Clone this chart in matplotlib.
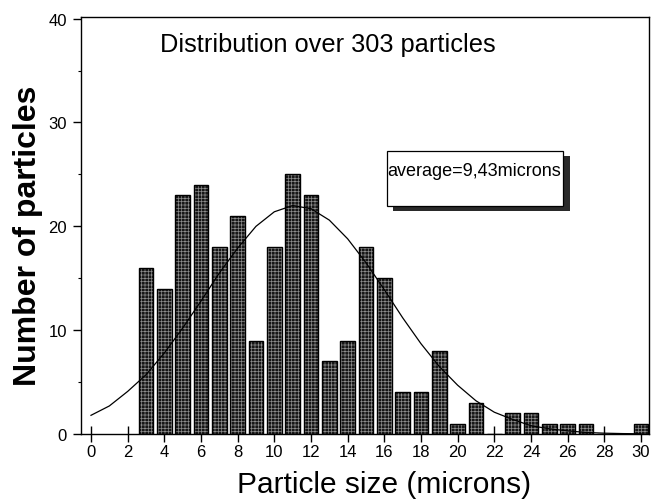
import matplotlib
matplotlib.use("Agg")
import matplotlib.pyplot as plt
from matplotlib.patches import Rectangle
from matplotlib.ticker import MultipleLocator

plt.rcParams['font.family'] = ['Liberation Sans', 'DejaVu Sans']

# Histogram data (particle size in microns -> count)
sizes = [3, 4, 5, 6, 7, 8, 9, 10, 11, 12, 13, 14, 15, 16, 17, 18, 19, 20, 21, 22,
         23, 24, 25, 26, 27, 28, 29, 30]
counts = [16, 14, 23, 24, 18, 21, 9, 18, 25, 23, 7, 9, 18, 15, 4, 4, 8, 1, 3, 0,
          2, 2, 1, 1, 1, 0, 0, 1]

fit_x = list(range(0, 31))
fit_y = [1.8, 2.7, 4.1, 5.7, 7.8, 10.2, 12.8, 15.5, 17.9, 20.0, 21.4, 22.0, 21.7,
         20.6, 18.8, 16.5, 13.9, 11.2, 8.7, 6.5, 4.7, 3.2, 2.1, 1.4, 0.8, 0.5,
         0.3, 0.15, 0.08, 0.04, 0.02]

title_text = "Distribution over 303 particles"
avg_text = "average=9,43microns"
xlabel = "Particle size (microns)"
ylabel = "Number of particles"
xticks = list(range(0, 31, 2))
yticks = [0, 10, 20, 30, 40]

fig = plt.figure(figsize=(6.51, 5.02), dpi=100)
ax = fig.add_axes([81/651, 1 - 435/502, (649-81)/651, (435-18)/502])

plt.rcParams['hatch.linewidth'] = 0.5
ax.bar(sizes, counts, width=0.8, facecolor='#161616', edgecolor='#8c8c8c',
       linewidth=0, hatch='+++++', zorder=2)
ax.bar(sizes, counts, width=0.8, fill=False, edgecolor='black', linewidth=1.0, zorder=3)

ax.plot(fit_x, fit_y, color='black', linewidth=0.9, zorder=4)

ax.set_xlim(-0.545, 30.44)
ax.set_ylim(0, 40.16)
ax.set_xticks(xticks)
ax.set_yticks(yticks)
ax.yaxis.set_minor_locator(MultipleLocator(5))
ax.tick_params(axis='x', direction='inout', length=11, width=1, labelsize=12, pad=2)
ax.tick_params(axis='y', which='major', direction='out', length=6, width=1, labelsize=12, pad=4)
ax.tick_params(axis='y', which='minor', direction='out', length=2.5, width=0.8)
for s in ax.spines.values():
    s.set_linewidth(1.0)

fig.text((158 + 498) / 2 / 651, 1 - 45 / 502, title_text, fontsize=18.3,
         ha='center', va='center')

fig.text(384.5 / 651, 1 - 485 / 502, xlabel, fontsize=21.5, ha='center', va='center')
fig.text(28 / 651, 1 - 236 / 502, ylabel, fontsize=23, fontweight='bold',
         rotation=90, ha='center', va='center')

# Annotation box with shadow (data coords)
bx0, bx1 = 16.13, 25.77
by0, by1 = 22.0, 27.21
dx, dy = 0.37, 0.48
ax.add_patch(Rectangle((bx0 + dx, by0 - dy), bx1 - bx0, by1 - by0,
                       facecolor='#2a2a2a', edgecolor='none', zorder=5))
ax.add_patch(Rectangle((bx0, by0), bx1 - bx0, by1 - by0,
                       facecolor='white', edgecolor='black', linewidth=0.9, zorder=6))
ax.text(bx0 + 0.02, 25.38, avg_text, fontsize=13, ha='left', va='center', zorder=7)

fig.savefig("out.png", dpi=100)
